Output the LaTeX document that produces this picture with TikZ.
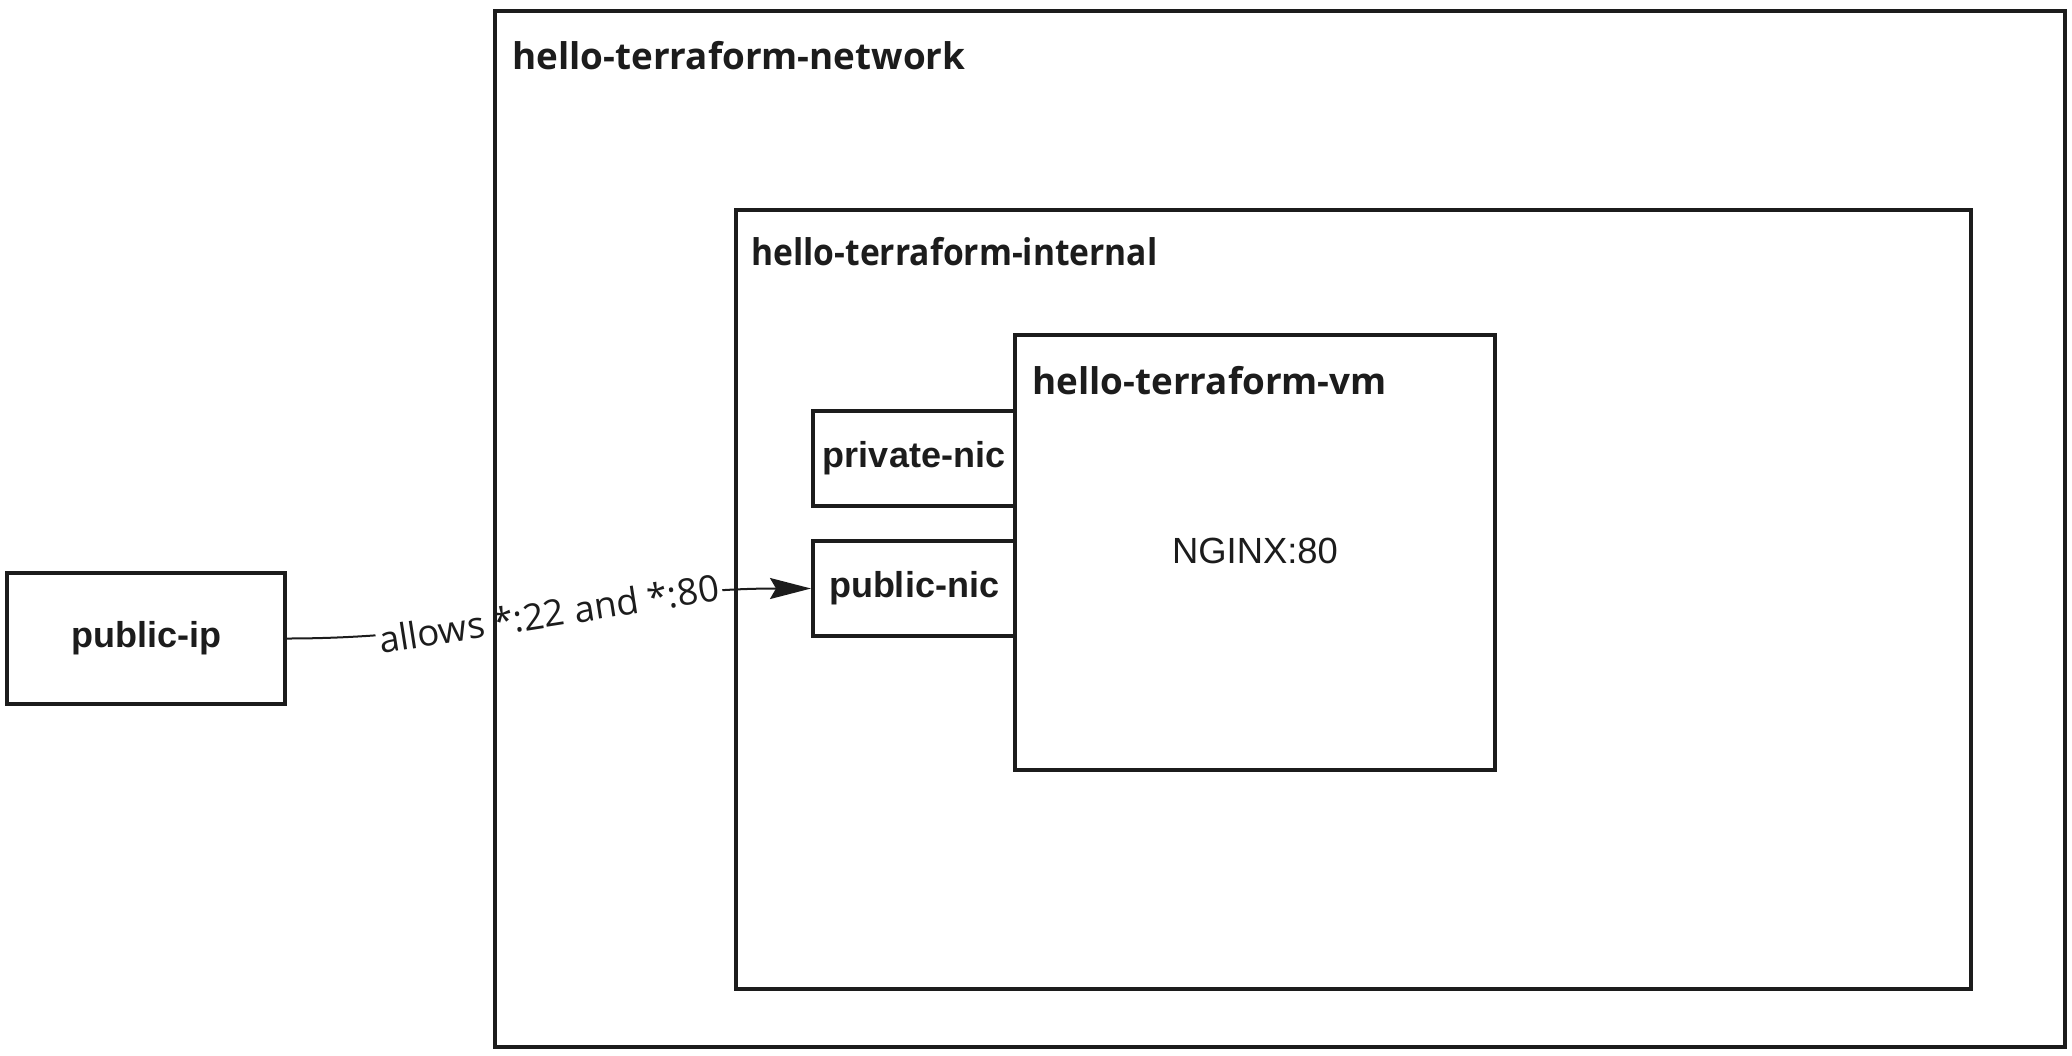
\documentclass[tikz,border=0pt]{standalone}
\usepackage{fontspec}
\usepackage{graphicx}
\setmainfont{Open Sans}
\newfontfamily\arialfont{Liberation Sans}
\usetikzlibrary{arrows.meta,backgrounds}
\definecolor{ink}{gray}{0.11}
\tikzset{
  box/.style={draw=ink, line width=2pt, inner sep=0pt, rectangle},
  titletext/.style={anchor=base west, inner sep=0pt, text=ink,
    font=\fontsize{18.4}{22}\selectfont\bfseries},
  nictext/.style={text=ink, font=\arialfont\fontsize{18}{22}\selectfont\bfseries},
  plaintext/.style={text=ink, font=\arialfont\fontsize{18.2}{22}\selectfont},
  edgelabel/.style={sloped, fill=white, inner sep=1.5pt, text=ink,
    font=\fontsize{18.3}{22}\selectfont},
  link/.style={draw=ink, line width=1pt,
    -{Stealth[length=20.5pt,width=10.5pt,inset=3pt]}}
}
\begin{document}
\begin{tikzpicture}[x=0.5pt,y=-0.5pt]
\useasboundingbox (0,0) rectangle (2072,1055);
% containers
\node[box, minimum width=785pt, minimum height=518pt] (network) at (1280,528.5) {};
\node[box, minimum width=617.5pt, minimum height=389.5pt] (internal) at (1353.5,599.5) {};
\node[box, minimum width=240pt, minimum height=217.5pt] (vm) at (1255,552.5) {};
% titles
\node[titletext] (networktitle) at (512,69) {hello-terraform-network};
\node[titletext] (internaltitle) at (751,265) {\scalebox{0.913}[1]{hello-terraform-internal}};
\node[titletext] (vmtitle) at (1032,394) {hello-terraform-vm};
% nic boxes
\node[box, minimum width=101pt, minimum height=47.5pt, nictext] (privnic) at (914,458) {private-nic};
\node[box, minimum width=101pt, minimum height=47.5pt, nictext] (pubnic) at (914,588.5) {public-nic};
\node[box, minimum width=139pt, minimum height=65.5pt, nictext] (pubip) at (146,638.5) {public-ip};
% vm content
\node[plaintext] (nginx) at (1255,551) {NGINX:80};
% connector
\begin{scope}[on background layer]
\draw[link] (pubip.east) to[out=0,in=180]
  node[edgelabel] (lbl) {allows *:22 and *:80} (pubnic.west);
\end{scope}
\end{tikzpicture}
\end{document}
